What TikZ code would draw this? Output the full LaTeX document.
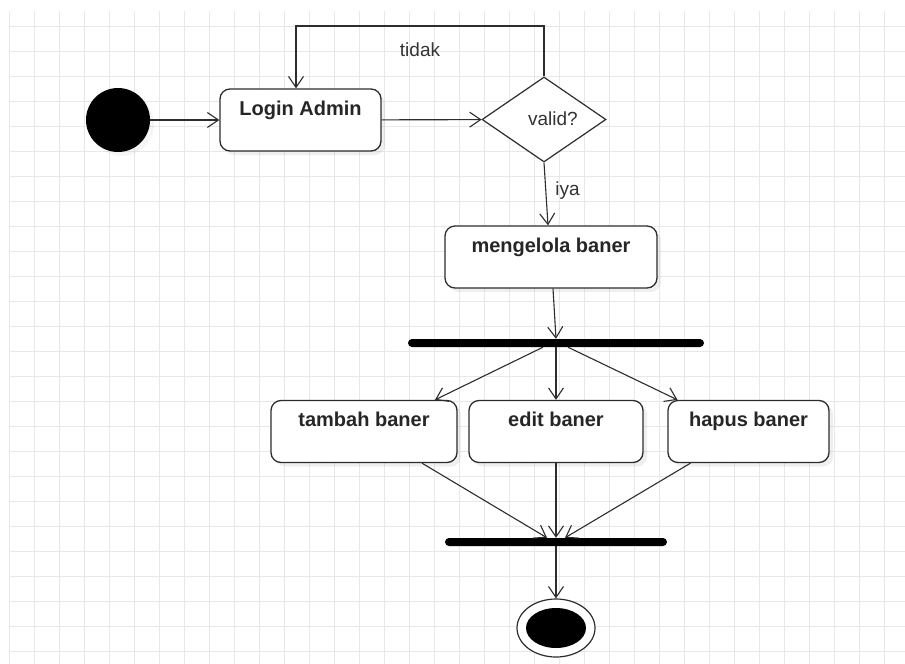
\documentclass[tikz,border=0pt]{standalone}
\usepackage{fontspec}
\setmainfont{Liberation Sans}
\usetikzlibrary{arrows.meta,shapes.geometric,shadows}
\newcommand{\gridstep}{25}
\newcommand{\boxh}{62}
\definecolor{gridgray}{RGB}{232,232,232}
\definecolor{linegray}{RGB}{45,45,45}

\tikzset{
	flow/.style = {draw=linegray, line width=1.1pt,
		-{Straight Barb[length=11pt, width=15pt, line width=1.1pt]}},
	actbox/.style = {draw=linegray, line width=1.3pt, fill=white, rounded corners=10pt,
		inner sep=0pt, minimum width=#1, text height=26pt, text depth=36pt,
		font=\fontsize{20}{24}\selectfont\bfseries, text=black!85,
		drop shadow={opacity=0.12, shadow xshift=4pt, shadow yshift=-4pt}},
	barnode/.style = {fill=black, rounded corners=4pt, inner sep=0pt,
		minimum width=#1, minimum height=8pt},
	lbl/.style = {font=\fontsize{19}{22}\selectfont, text=black!80, inner sep=0pt}
}

\begin{document}
\begin{tikzpicture}[x=1pt, y=-1pt]
		\useasboundingbox (0,0) rectangle (905,664);
		\fill[white] (0,0) rectangle (905,664);
		% grid
		\foreach \gx in {9,34,...,905}
			\draw[gridgray, line width=1pt] (\gx,11) -- (\gx,664);
		\foreach \gy in {26,51,...,664}
			\draw[gridgray, line width=1pt] (9,\gy) -- (905,\gy);

		% nodes
		\node[circle, fill=black, minimum size=64pt, inner sep=0pt,
			drop shadow={opacity=0.08, shadow xshift=4pt, shadow yshift=-4pt}] (start) at (118,120) {};
		\node[actbox=161pt] (login) at (300.5,120) {Login Admin};
		\node[diamond, draw=linegray, line width=1.2pt, fill=white, minimum width=124pt,
			minimum height=85pt, inner sep=0pt, aspect=1.46,
			label={[lbl, xshift=9pt, yshift=1pt]center:valid?}] (valid) at (544,119.5) {};
		\node[actbox=212pt] (meng) at (551,257) {mengelola baner};
		\node[barnode=296pt] (fork) at (556,343) {};
		\node[actbox=186pt] (tambah) at (364,431.5) {tambah baner};
		\node[actbox=174pt] (edit) at (556,431.5) {edit baner};
		\node[actbox=161pt] (hapus) at (748.5,431.5) {hapus baner};
		\node[barnode=222pt] (join) at (556,542) {};
		\node[ellipse, draw=linegray, line width=1.2pt, fill=white, minimum width=78pt,
			minimum height=58pt, inner sep=0pt] (finish) at (556,628) {};
		\fill (finish.center) ellipse (30pt and 20pt);
		\coordinate (back) at (296,26);

		% connectors
		\draw[flow] (start) -- (login);
		\draw[flow] (login) -- (valid);
		\draw[flow] (valid.north) |- node[lbl, pos=0.75, yshift=-24pt] {tidak} (back) -- (back |- login.north);
		\draw[flow] (valid.south) -- node[lbl, pos=0.45, right=9pt] {iya} ([xshift=-3pt]meng.north);
		\draw[flow] ([xshift=2pt]meng.south) -- (fork.north);
		\draw[flow] ([xshift=-13pt]fork.south) -- ([xshift=71pt]tambah.north);
		\draw[flow] (fork.south) -- (edit.north);
		\draw[flow] ([xshift=12pt]fork.south) -- ([xshift=-71pt]hapus.north);
		\draw[flow] ([xshift=58pt]tambah.south) -- ([xshift=-9pt]join.north);
		\draw[flow] (edit.south) -- (join.north);
		\draw[flow] ([xshift=-58pt]hapus.south) -- ([xshift=9pt]join.north);
		\draw[flow] (join.south) -- (finish.north);
\end{tikzpicture}
\end{document}
